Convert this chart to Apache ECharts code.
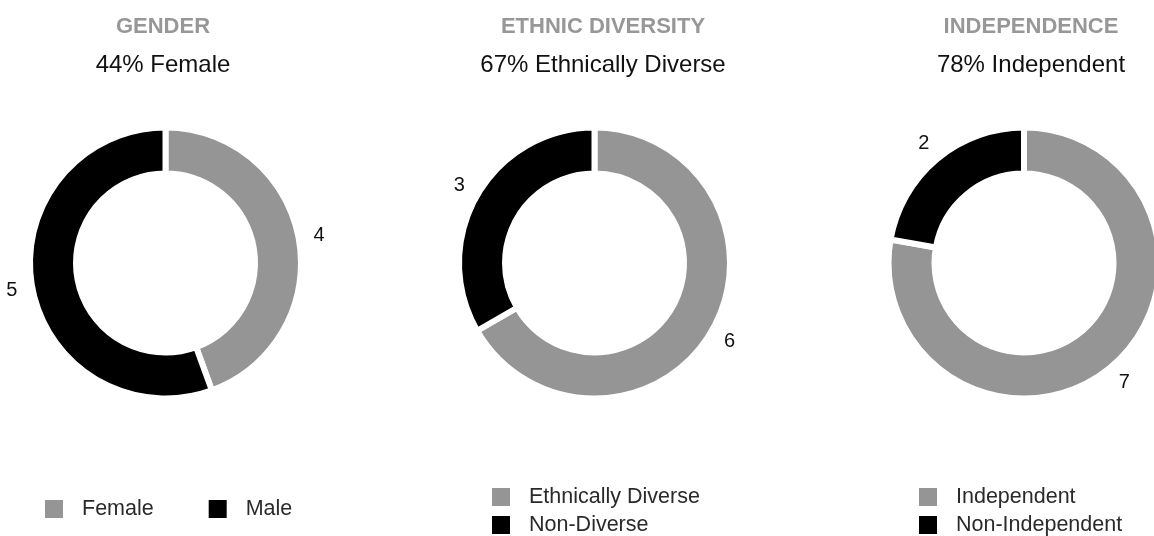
<!DOCTYPE html>
<html>
<head>
<meta charset="utf-8">
<title>Board Composition</title>
<script src="https://cdn.jsdelivr.net/npm/echarts@6/dist/echarts.min.js"></script>
<style>
  html, body { margin: 0; padding: 0; background: #ffffff; }
  #chart { width: 1154px; height: 536px; }
</style>
</head>
<body>
<div id="chart"></div>
<script>
// Board composition figures
const genderCategories = ['Female', 'Male'];
const genderValues = [4, 5];

const ethnicCategories = ['Ethnically Diverse', 'Non-Diverse'];
const ethnicValues = [6, 3];

const independenceCategories = ['Independent', 'Non-Independent'];
const independenceValues = [7, 2];

const panelTitles = ['GENDER', 'ETHNIC DIVERSITY', 'INDEPENDENCE'];
const panelSubtitles = ['44% Female', '67% Ethnically Diverse', '78% Independent'];

const sliceColors = ['#959595', '#000000'];
const FONT = '"Liberation Sans", Arial, Helvetica, sans-serif';

// legendRows: one entry per row of legend items (left/top of each row box)
const panels = [
  { cats: genderCategories, vals: genderValues, cx: 165.5, titleX: 163,
    legendRows: [{ left: 40, top: 493, items: [0, 1] }] },
  { cats: ethnicCategories, vals: ethnicValues, cx: 594.5, titleX: 603,
    legendRows: [{ left: 487, top: 481, items: [0] }, { left: 487, top: 509, items: [1] }] },
  { cats: independenceCategories, vals: independenceValues, cx: 1024, titleX: 1031,
    legendRows: [{ left: 914, top: 481, items: [0] }, { left: 914, top: 509, items: [1] }] }
];

const CY = 263;

const series = [];
const legends = [];
const graphics = [];

panels.forEach((p, i) => {
  const items = p.cats.map((name, k) => ({
    name: name,
    value: p.vals[k],
    itemStyle: { color: sliceColors[k] }
  }));

  // ring
  series.push({
    type: 'pie',
    name: panelTitles[i],
    center: [p.cx, CY],
    radius: [89.5, 135.5],
    startAngle: 90,
    clockwise: true,
    silent: true,
    label: { show: false },
    labelLine: { show: false },
    itemStyle: { borderColor: '#ffffff', borderWidth: 6 },
    emphasis: { disabled: true },
    data: items
  });

  // value labels sitting just outside the ring, at each slice's mid-angle
  series.push({
    type: 'pie',
    name: panelTitles[i] + ' values',
    center: [p.cx, CY],
    radius: [146, 160],
    startAngle: 90,
    clockwise: true,
    silent: true,
    legendHoverLink: false,
    itemStyle: { color: 'rgba(0,0,0,0)' },
    emphasis: { disabled: true },
    label: {
      show: true,
      position: 'inside',
      formatter: '{c}',
      fontFamily: FONT,
      fontSize: 20,
      color: '#111111'
    },
    labelLine: { show: false },
    data: p.cats.map((name, k) => ({ name: name, value: p.vals[k] }))
  });

  p.legendRows.forEach(row => {
    legends.push({
      left: row.left,
      top: row.top,
      orient: 'horizontal',
      icon: 'rect',
      itemWidth: 18,
      itemHeight: 18,
      itemGap: 55,
      selectedMode: false,
      itemStyle: { borderWidth: 0 },
      data: row.items.map(k => ({
        name: p.cats[k],
        itemStyle: { color: sliceColors[k], borderWidth: 0 }
      })),
      textStyle: {
        fontFamily: FONT,
        fontSize: 21.5,
        color: '#2a2a2a',
        lineHeight: 18,
        padding: [0, 0, 0, 14]
      }
    });
  });

  graphics.push({
    type: 'text',
    x: p.titleX,
    y: 27,
    style: {
      text: panelTitles[i],
      fontFamily: FONT,
      fontSize: 22,
      fontWeight: 'bold',
      fill: '#979797',
      textAlign: 'center',
      textVerticalAlign: 'middle'
    }
  });
  graphics.push({
    type: 'text',
    x: p.titleX,
    y: 65,
    style: {
      text: panelSubtitles[i],
      fontFamily: FONT,
      fontSize: 24,
      fill: '#111111',
      textAlign: 'center',
      textVerticalAlign: 'middle'
    }
  });
});

const chart = echarts.init(document.getElementById('chart'), null, { renderer: 'canvas' });
chart.setOption({
  backgroundColor: '#ffffff',
  animation: false,
  tooltip: { show: false },
  legend: legends,
  graphic: graphics,
  series: series
});
</script>
</body>
</html>
